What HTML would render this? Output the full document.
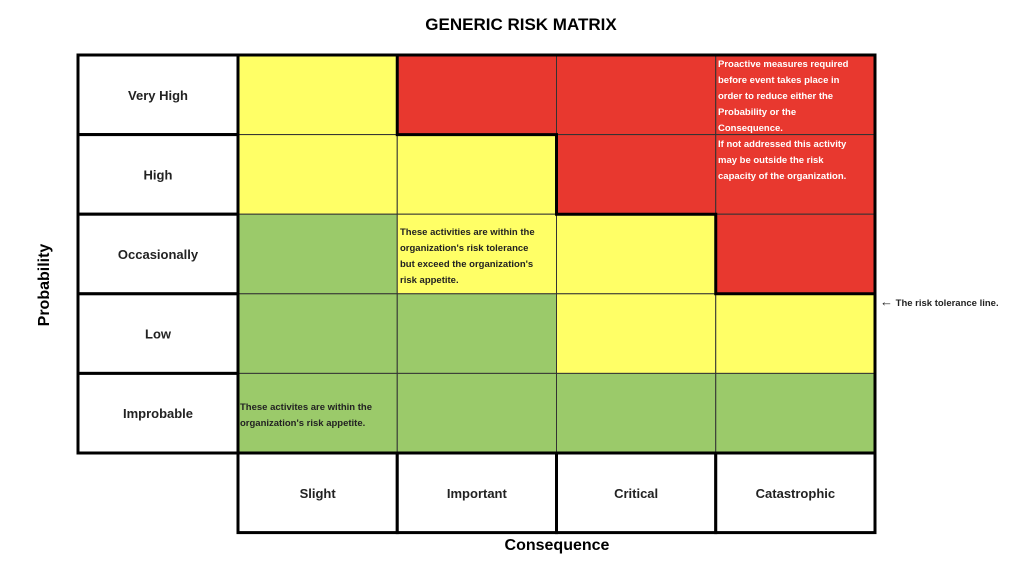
<!DOCTYPE html>
<html><head><meta charset="utf-8"><style>
body{margin:0;background:#fff;}
svg{display:block;font-family:"Liberation Sans",sans-serif;}
</style></head><body>
<svg id="chart" width="1024" height="568" viewBox="0 0 1024 568">
<text x="521" y="30" text-anchor="middle" font-size="17" font-weight="bold">GENERIC RISK MATRIX</text>
<g id="cells"></g>
<g id="labels"></g>
<g id="thick" fill="none" stroke="#000" stroke-width="3"></g>
<text x="557" y="550" text-anchor="middle" font-size="16" font-weight="bold">Consequence</text>
<text transform="translate(49,285) rotate(-90)" text-anchor="middle" font-size="16" font-weight="bold">Probability</text>
<text x="880" y="306" font-size="9.5" font-weight="bold" fill="#222"><tspan font-size="13">&#8592;</tspan>  The risk tolerance line.</text>
<g font-size="9.5" font-weight="bold" fill="#fff">
<text x="718" y="67">Proactive measures required</text>
<text x="718" y="83">before event takes place in</text>
<text x="718" y="99">order to reduce either the</text>
<text x="718" y="115">Probability or the</text>
<text x="718" y="131">Consequence.</text>
<text x="718" y="147">If not addressed this activity</text>
<text x="718" y="163">may be outside the risk</text>
<text x="718" y="179">capacity of the organization.</text>
</g>
<g font-size="9.5" font-weight="bold" fill="#222">
<text x="400" y="235">These activities are within the</text>
<text x="400" y="251">organization's risk tolerance</text>
<text x="400" y="267">but exceed the organization's</text>
<text x="400" y="283">risk appetite.</text>
</g>
<g font-size="9.5" font-weight="bold" fill="#222">
<text x="240" y="410">These activites are within the</text>
<text x="240" y="426">organization's risk appetite.</text>
</g>
</svg>
<script>
const probabilities = ["Very High","High","Occasionally","Low","Improbable"];
const consequences = ["Slight","Important","Critical","Catastrophic"];
const riskLevels = [
  ["M","H","H","H"],
  ["M","M","H","H"],
  ["L","M","M","H"],
  ["L","L","M","M"],
  ["L","L","L","L"]
];
const NS="http://www.w3.org/2000/svg";
const colors={H:"#e8382f",M:"#ffff66",L:"#9bca6a"};
const x0=78,labelW=160,cw=159.25,topY=55,rh=79.6;
const colX=i=>x0+labelW+i*cw;
const rowY=j=>topY+j*rh;
const cellsG=document.getElementById('cells'),labelsG=document.getElementById('labels'),thickG=document.getElementById('thick');
function mk(tag,attrs,parent){const e=document.createElementNS(NS,tag);for(const k in attrs)e.setAttribute(k,attrs[k]);parent.appendChild(e);return e;}
riskLevels.forEach((row,j)=>row.forEach((lv,i)=>{
  const r=mk('rect',{x:colX(i),y:rowY(j),width:cw,height:rh,fill:colors[lv],stroke:"#333","stroke-width":1},cellsG);
  
  
}));
probabilities.forEach((p,j)=>{
  const r=mk('rect',{x:x0,y:rowY(j),width:labelW,height:rh,fill:"#fff",stroke:"#000","stroke-width":3},labelsG);
  
  
  const t=mk('text',{x:x0+labelW/2,y:rowY(j)+rh/2+5,"text-anchor":"middle","font-size":13,"font-weight":"bold",fill:"#222"},labelsG);
  t.textContent=p;
  
  
});
consequences.forEach((c,i)=>{
  const y=rowY(probabilities.length);
  const r=mk('rect',{x:colX(i),y:y,width:cw,height:rh,fill:"#fff",stroke:"#000","stroke-width":3},labelsG);
  
  
  const t=mk('text',{x:colX(i)+cw/2,y:y+rh/2+5,"text-anchor":"middle","font-size":13,"font-weight":"bold",fill:"#222"},labelsG);
  t.textContent=c;
  
  
});
const ob=mk('rect',{x:colX(0),y:topY,width:cw*consequences.length,height:rh*probabilities.length},thickG);


let d="";
riskLevels.forEach((row,j)=>{
  const first=row.indexOf("H");
  if(first<0)return;
  const x=colX(first);
  d+=(d?"L":"M")+x+","+rowY(j)+"L"+x+","+rowY(j+1);
});
let lastH=-1;riskLevels.forEach((row,j)=>{if(row.includes("H"))lastH=j;});
d+="L"+colX(consequences.length)+","+rowY(lastH+1);
const tl=mk('path',{d:d},thickG);


</script>
</body></html>
